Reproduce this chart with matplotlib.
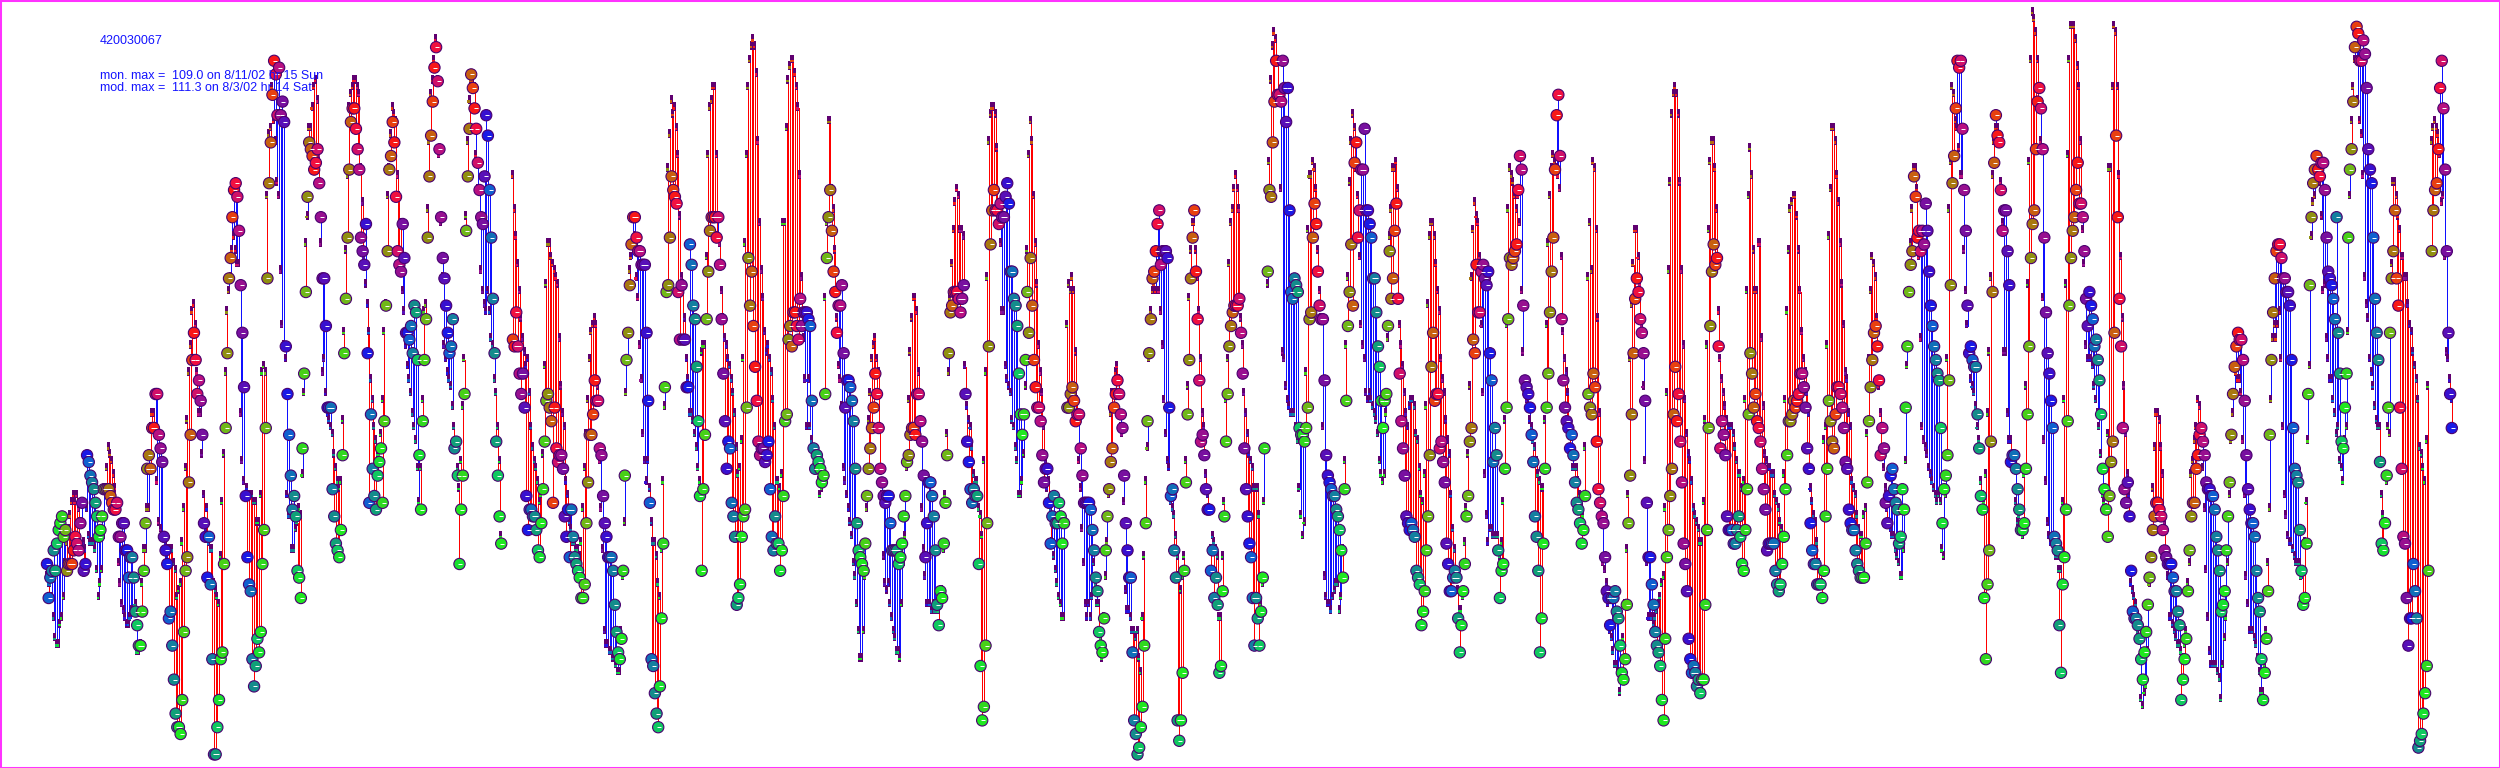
import numpy as np
import matplotlib
matplotlib.use('Agg')
import matplotlib.pyplot as plt

nan = float('nan')

# hourly monitor (obs) and model values, one pair of lists per day, first day 6/15/02
obs_00 = [30,25,28,29,32,29,33,35,36,37,34,35,29,30,30,30,32,34,33,32,36,39,29,30]
mod_00 = [28,27,27,25,22,19,18,18,21,22,25,30,33,35,37,39,40,39,40,38,36,36,33,32]
obs_01 = [46,45,43,42,41,39,37,34,35,37,41,41,41,41,40,39,38,38,39,34,34,36,36,32]
mod_01 = [38,34,33,33,33,32,29,25,27,29,34,41,44,47,46,45,43,41,39,30,27,24,23,22]
obs_02 = [32,28,31,31,28,23,21,18,18,23,29,36,44,46,44,50,50,55,55,49,47,45,34,32]
mod_02 = [21,21,22,23,23,24,17,17,18,27,32,32,38,38,50,52,52,50,42,36,35,34,34,33]
obs_03 = [30,22,23,18,13,8,6,6,5,10,20,29,31,42,49,60,64,60,55,57,54,49,36,34]
mod_03 = [31,32,32,32,30,29,25,26,27,33,38,44,51,58,62,67,68,65,58,52,52,46,40,35]
obs_04 = [28,34,27,16,2,2,6,10,16,17,30,50,61,72,75,81,85,86,84,79,71,64,56,40]
mod_04 = [38,33,32,32,27,26,25,24,31,39,46,58,67,70,72,76,78,76,74,74,52,45,42,40]
obs_05 = [31,27,26,16,12,15,19,17,20,30,35,50,72,86,92,99,104,102,96,103,96,98,95,62]
mod_05 = [41,40,40,40,39,39,36,36,40,58,59,58,84,93,94,100,95,92,86,84,73,65,62,60]
obs_06 = [55,49,43,38,40,37,29,28,25,47,58,70,84,92,91,90,88,89,91,86,81,72,72,65]
mod_06 = [40,37,37,32,32,35,36,38,37,43,55,77,81,94,94,97,100,101,98,90,77,58,60,55]
obs_07 = [53,53,53,41,37,33,32,31,35,46,61,69,78,88,95,97,97,94,91,88,78,76,74,80]
mod_07 = [52,51,50,49,46,44,42,41,42,51,64,76,87,97,99,100,101,101,100,99,88,83,75,71]
obs_08 = [61,39,52,44,40,38,43,45,47,39,51,68,76,88,90,95,92,84,76,74,73,80,75,64]
mod_08 = [68,64,57,54,50,48,46,46,49,54,64,68,84,88,93,97,96,95,87,84,80,70,67,62]
obs_09 = [64,63,65,61,68,67,60,46,38,51,60,66,78,87,93,98,103,106,101,91,81,75,72,68]
mod_09 = [59,57,55,52,50,48,44,39,44,54,67,68,82,92,99,101,104,107,101,90,80,72,62,60]
obs_10 = [64,61,62,66,47,48,43,30,38,43,55,79,87,94,102,100,97,94,89,85,81,80,87,96]
mod_10 = [58,57,56,53,50,47,44,41,45,53,60,81,92,98,101,101,100,90,85,80,73,70,68,67]
obs_11 = [93,85,78,69,61,48,43,37,33,nan,nan,nan,nan,nan,nan,63,62,67,62,58,55,58,53,40]
mod_11 = [70,67,63,62,57,55,50,45,34,nan,nan,nan,nan,nan,nan,87,82,78,74,70,66,63,61,59]
obs_12 = [35,38,38,37,37,35,32,31,36,41,48,54,55,53,51,39,53,47,45,46,46,44,37,34]
mod_12 = [60,55,50,47,45,44,42,39,40,46,59,71,77,77,75,74,73,72,71,63,56,52,50,42]
obs_13 = [38,31,38,34,31,30,29,28,25,25,27,36,42,49,49,52,57,54,54,47,46,40,36,34]
mod_13 = [40,36,35,33,33,32,32,31,33,38,44,49,54,60,64,65,66,65,56,45,38,32,20,18]
obs_14 = [31,31,31,29,24,20,17,16,19,29,43,60,64,71,77,81,81,78,76,76,74,74,74,64]
mod_14 = [18,17,17,16,16,15,14,14,20,28,36,55,60,73,75,77,78,72,69,62,57,49,45,42]
obs_15 = [54,39,16,15,11,8,6,12,22,33,56,70,71,78,87,85,84,83,70,63,71,63,63,56]
mod_15 = [45,41,36,33,33,31,27,25,32,42,53,70,88,93,98,96,97,94,90,81,72,71,66,60]
obs_16 = [56,77,74,68,66,59,51,40,29,41,49,66,73,79,81,81,81,78,81,74,66,58,51,44]
mod_16 = [57,52,52,51,49,47,44,42,61,62,62,75,90,97,98,100,100,90,78,77,70,66,63,62]
obs_17 = [48,47,39,37,34,24,25,27,34,37,38,53,75,68,73,65,59,54,48,46,47,47,45,46]
mod_17 = [60,59,57,55,52,47,43,44,48,60,77,90,100,104,106,107,106,102,92,80,73,69,64,61]
obs_18 = [48,41,34,32,37,33,33,29,32,40,51,52,63,65,62,67,67,65,63,69,65,67,67,67]
mod_18 = [62,60,58,54,50,42,42,41,43,80,80,94,101,103,104,104,102,100,97,87,72,63,57,50]
obs_19 = [66,65,54,47,44,46,45,44,42,43,55,75,81,85,79,73,70,64,68,68,71,61,53,57]
mod_19 = [57,50,48,46,44,44,42,40,41,42,69,80,95,95,85,82,76,66,59,57,53,44,42,40]
obs_20 = [57,56,54,51,44,36,32,31,30,29,33,40,44,47,50,53,58,55,50,44,42,40,39,40]
mod_20 = [38,36,34,30,28,24,20,16,16,20,28,38,51,55,60,62,63,60,58,50,40,31,27,26]
obs_21 = [40,36,32,32,32,32,30,31,33,37,40,45,46,49,50,50,49,55,55,51,48,43,31,36]
mod_21 = [27,24,22,20,19,17,17,16,24,30,34,44,54,61,66,69,69,67,58,48,38,32,28,24]
obs_22 = [42,42,40,37,32,24,21,26,25,33,39,46,61,67,68,70,70,70,69,67,69,71,55,48]
mod_22 = [24,24,23,24,23,23,23,24,26,32,40,49,58,69,74,79,83,85,84,79,79,78,59,53]
obs_23 = [45,41,39,41,40,40,30,15,7,9,18,36,62,77,82,85,82,82,80,83,81,81,84,86]
mod_23 = [51,50,47,43,42,42,38,37,34,45,58,72,92,96,97,97,96,91,80,77,67,67,59,57]
obs_24 = [83,73,73,69,68,65,58,52,49,52,60,70,64,75,68,60,56,53,53,51,46,42,44,44]
mod_24 = [56,55,51,50,47,45,40,40,42,46,56,76,90,95,92,84,77,71,62,58,55,50,45,41]
obs_25 = [39,33,37,40,36,36,39,37,33,36,nan,53,53,55,56,54,51,52,52,47,43,39,39,39]
mod_25 = [42,38,33,31,29,27,25,24,22,22,nan,65,71,70,72,70,61,54,45,41,35,30,24,22]
obs_26 = [39,38,35,32,28,26,20,18,17,22,32,37,41,45,47,53,55,57,55,52,50,43,36,32]
mod_26 = [24,22,25,30,27,24,24,19,16,22,28,33,40,52,55,55,58,59,57,50,49,39,26,23]
obs_27 = [28,28,17,7,5,2,3,6,9,18,36,51,61,66,72,73,76,80,82,74,76,76,76,75]
mod_27 = [23,22,20,20,19,20,16,14,22,31,42,47,60,67,70,71,70,74,70,67,62,54,49,45]
obs_28 = [53,40,41,32,28,7,4,7,14,29,42,52,60,72,78,82,73,66,57,48,49,46,41,38]
mod_28 = [44,39,38,37,34,31,28,26,28,31,45,56,69,76,80,80,76,72,67,60,52,50,43,40]
obs_29 = [38,29,32,25,28,24,14,15,26,37,48,55,62,65,67,68,68,68,69,64,58,47,41,37]
mod_29 = [38,32,34,33,32,31,22,22,31,39,54,60,74,80,82,85,87,85,82,66,62,55,52,49]
obs_30 = [33,31,25,18,25,22,18,23,28,47,nan,73,85,84,92,98,104,99,99,98,104,100,95,100]
mod_30 = [46,45,44,41,41,41,37,24,27,39,nan,71,89,101,106,108,107,104,98,85,61,60,56,54]
obs_31 = [82,70,69,72,71,70,50,49,49,48,50,53,66,67,78,83,80,73,68,66,66,57,46,43]
mod_31 = [53,52,52,52,50,48,41,37,34,36,58,79,87,87,89,88,85,76,70,66,50,28,25,24]
obs_32 = [42,41,40,40,38,37,35,32,28,41,54,65,70,77,68,89,92,78,82,88,88,94,82,82]
mod_32 = [24,23,25,26,27,27,23,25,32,45,62,72,86,92,96,94,88,84,75,65,62,60,55,54]
obs_33 = [80,78,72,72,67,62,59,54,50,54,55,65,76,69,72,79,83,69,58,51,47,43,37,36]
mod_33 = [55,54,53,52,51,49,45,43,42,43,52,63,78,82,88,88,89,85,65,62,59,55,52,50]
obs_34 = [35,36,35,34,29,28,27,21,23,26,32,37,46,59,64,54,55,55,47,48,45,42,33,30]
mod_34 = [53,54,54,53,49,48,44,40,39,43,53,68,78,80,80,78,74,70,67,60,57,55,51,48]
obs_35 = [26,26,28,29,28,22,17,21,26,30,37,40,48,50,63,61,74,67,67,73,74,72,71,73]
mod_35 = [46,40,35,32,28,26,23,23,25,33,38,46,56,72,79,83,81,80,75,65,55,43,37,33]
obs_36 = [61,57,45,50,46,32,25,29,30,44,53,66,75,74,75,76,77,85,90,88,68,57,56,55]
mod_36 = [35,35,34,34,34,34,31,33,39,51,65,82,88,87,86,84,82,84,80,70,61,55,54,53]
obs_37 = [53,49,45,37,34,29,17,22,33,44,53,58,67,73,78,88,96,99,90,66,57,53,51,50]
mod_37 = [51,50,48,47,45,43,42,41,41,51,65,77,84,88,90,89,88,87,85,75,64,60,58,55]
obs_38 = [47,49,46,42,39,38,36,33,35,40,nan,55,53,52,58,56,48,41,39,37,36,31,26,25]
mod_38 = [50,46,44,44,44,42,40,38,37,47,nan,72,80,73,89,88,79,66,52,38,30,29,27,24]
obs_39 = [21,25,25,26,23,22,18,14,13,16,24,36,43,52,61,69,72,70,66,64,61,54,39,31]
mod_39 = [20,19,17,15,15,14,11,13,19,24,32,40,60,68,74,79,79,75,71,65,56,45,30,22]
obs_40 = [31,27,24,20,18,17,15,10,7,19,31,35,40,44,52,59,51,55,48,42,33,30,26,19]
mod_40 = [22,22,21,22,23,24,25,27,28,38,55,73,86,96,99,100,99,96,86,73,62,54,49,46]
obs_41 = [16,14,15,14,12,13,11,13,13,24,35,50,65,73,77,74,75,62,47,51,49,46,37,35]
mod_41 = [45,42,38,37,36,35,33,33,39,51,62,79,89,92,92,88,82,67,60,57,55,53,51,50]
obs_42 = [35,35,33,33,35,37,34,30,29,35,41,52,61,58,53,55,51,50,48,44,41,38,32,33]
mod_42 = [50,50,49,47,45,43,43,41,42,54,70,84,91,87,76,70,70,77,77,63,53,46,45,44]
obs_43 = [33,33,33,29,27,26,27,30,34,41,46,51,51,52,54,53,54,55,58,58,56,53,47,44]
mod_43 = [44,43,43,40,39,38,36,35,43,54,67,76,82,83,84,84,81,76,70,64,60,58,55,52]
obs_44 = [36,32,30,30,27,27,27,25,29,37,44,54,51,48,47,52,56,56,55,53,50,45,44,38]
mod_44 = [41,39,37,36,33,30,29,27,48,50,62,78,85,94,94,92,87,83,77,71,65,58,57,52]
obs_45 = [36,35,35,32,30,29,28,28,28,33,42,51,56,60,64,65,62,57,46,50,47,39,36,40]
mod_45 = [50,42,41,40,37,35,34,34,37,38,49,60,70,75,74,72,66,56,52,50,44,41,38,36]
obs_46 = [43,44,41,39,38,33,34,41,38,53,62,70,74,76,87,84,78,79,76,79,77,83,79,73]
mod_46 = [35,34,34,32,31,30,28,28,32,45,59,70,77,82,88,88,85,75,63,50,48,47,46,44]
obs_47 = [68,65,62,60,58,57,50,36,41,43,46,57,71,86,90,97,104,103,104,94,85,79,68,61]
mod_47 = [43,42,41,40,39,40,39,32,31,40,60,82,89,100,99,95,94,91,87,87,76,70,65,60]
obs_48 = [62,60,59,59,52,47,40,38,25,16,27,32,48,70,89,96,93,92,85,79,82,82,76,71]
mod_48 = [57,56,55,53,50,48,42,40,39,43,52,61,72,87,92,94,94,92,86,80,61,61,52,48]
obs_49 = [45,46,46,44,41,38,35,35,36,44,52,62,75,80,82,91,98,100,97,91,78,67,61,58]
mod_49 = [48,46,45,39,36,37,35,34,43,56,71,89,104,111,110,108,104,100,92,69,48,42,36,34]
obs_50 = [54,50,34,33,32,21,14,27,31,38,51,68,75,79,81,85,89,83,83,81,76,69,65,70]
mod_50 = [33,33,32,31,31,29,29,39,54,71,90,104,109,109,109,107,103,100,92,79,74,62,60,60]
obs_51 = [68,66,62,63,60,57,52,44,41,38,34,40,45,48,64,93,81,69,62,50,41,39,42,37]
mod_51 = [60,59,56,54,52,50,46,40,39,38,49,88,88,100,109,108,100,87,75,66,56,49,43,40]
obs_52 = [29,23,22,22,21,19,16,13,17,20,24,28,31,35,37,39,39,38,37,35,32,31,30,30]
mod_52 = [27,26,25,24,20,16,10,9,11,12,17,27,31,41,47,52,52,51,47,43,36,30,28,22]
obs_53 = [30,28,26,26,23,21,10,13,16,19,26,32,37,39,39,44,46,49,50,48,46,42,41,41]
mod_53 = [22,21,20,19,18,18,17,16,18,20,27,30,43,45,48,50,54,53,50,44,38,29,22,17]
obs_54 = [40,40,38,34,32,29,23,24,26,32,37,42,49,55,59,62,64,63,63,60,54,46,41,38]
mod_54 = [15,15,15,15,14,13,10,15,19,22,30,40,48,52,55,58,57,57,55,48,40,28,24,20]
obs_55 = [36,36,34,29,25,23,16,10,14,19,26,49,60,67,72,76,77,77,75,72,72,70,70,68]
mod_55 = [20,20,19,18,16,14,11,11,15,20,30,38,54,63,65,63,65,67,60,50,40,37,34,33]
obs_56 = [60,50,44,43,42,35,29,24,25,33,55,71,81,86,88,90,88,87,89,89,85,78,73,72]
mod_56 = [33,32,31,30,30,30,28,29,33,39,48,59,78,83,84,86,86,86,81,70,71,63,60,57]
obs_57 = [71,69,66,81,64,58,48,47,53,58,78,88,91,98,106,109,108,104,104,107,105,100,91,88]
mod_57 = [57,54,52,49,50,45,44,42,48,50,64,84,95,100,104,104,98,95,93,87,72,68,66,60]
obs_58 = [86,78,69,64,60,45,33,32,36,43,53,64,72,76,82,72,68,53,44,34,33,25,18,22]
mod_58 = [58,56,53,51,50,50,40,37,36,42,50,49,74,86,86,84,81,79,75,75,72,72,68,65]
obs_59 = [22,30,26,22,3,4,5,8,11,15,29,nan,76,82,85,86,91,100,104,97,88,76,64,55,50]
mod_59 = [64,61,59,57,54,47,46,44,42,48,56,nan,92,94,95,94,93,90,83,84,75,61,60,57,54]

obs_days = [obs_00,obs_01,obs_02,obs_03,obs_04,obs_05,obs_06,obs_07,obs_08,obs_09,
            obs_10,obs_11,obs_12,obs_13,obs_14,obs_15,obs_16,obs_17,obs_18,obs_19,
            obs_20,obs_21,obs_22,obs_23,obs_24,obs_25,obs_26,obs_27,obs_28,obs_29,
            obs_30,obs_31,obs_32,obs_33,obs_34,obs_35,obs_36,obs_37,obs_38,obs_39,
            obs_40,obs_41,obs_42,obs_43,obs_44,obs_45,obs_46,obs_47,obs_48,obs_49,
            obs_50,obs_51,obs_52,obs_53,obs_54,obs_55,obs_56,obs_57,obs_58,obs_59]
mod_days = [mod_00,mod_01,mod_02,mod_03,mod_04,mod_05,mod_06,mod_07,mod_08,mod_09,
            mod_10,mod_11,mod_12,mod_13,mod_14,mod_15,mod_16,mod_17,mod_18,mod_19,
            mod_20,mod_21,mod_22,mod_23,mod_24,mod_25,mod_26,mod_27,mod_28,mod_29,
            mod_30,mod_31,mod_32,mod_33,mod_34,mod_35,mod_36,mod_37,mod_38,mod_39,
            mod_40,mod_41,mod_42,mod_43,mod_44,mod_45,mod_46,mod_47,mod_48,mod_49,
            mod_50,mod_51,mod_52,mod_53,mod_54,mod_55,mod_56,mod_57,mod_58,mod_59]

# circle colour goes with the hour of day
hour_colors = ['#1a1ae6','#1060d0','#1070b8','#1480a0','#148c8c','#10a078','#10c860','#18e030',
               '#20e820','#30d820','#48d018','#70b818','#909010','#a87810','#c86010','#e84010',
               '#f81818','#f01040','#d01068','#b81080','#981090','#7810a0','#5810b8','#3810d0']

title_id = '420030067'
mon_label = 'mon. max ='
mod_label = 'mod. max ='
mon_text = '109.0 on 8/11/02 hr 15 Sun'
mod_text = '111.3 on 8/3/02 hr 14 Sat'

hours, obs, mod = [], [], []
for d in range(len(obs_days)):
    for h, (o, m) in enumerate(zip(obs_days[d], mod_days[d])):
        hours.append(24 * d + h)
        obs.append(o)
        mod.append(m)
hours = np.array(hours, dtype=float)
obs = np.array(obs, dtype=float)
mod = np.array(mod, dtype=float)
colors = [hour_colors[int(h) % 24] for h in hours]

W, H = 2500, 768
px = 1.67
fig = plt.figure(figsize=(W / 100, H / 100), dpi=100, facecolor='white')
ax = fig.add_axes([0, 0, 1, 1])
ax.set_xlim(-47 / px, (W - 47) / px)
ax.set_ylim(0, H / 6.8)
ax.set_xticks([])
ax.set_yticks([])
for s in ax.spines.values():
    s.set_color('#ff33ff')
    s.set_linewidth(2.2)

ok = ~np.isnan(obs) & ~np.isnan(mod)
up = ok & (mod > obs)
down = ok & (mod <= obs)
ax.vlines(hours[up], obs[up], mod[up], color='#ff0000', lw=0.45, antialiased=False, zorder=2)
ax.vlines(hours[down], obs[down], mod[down], color='#1010ff', lw=0.45, antialiased=False, zorder=2)

# model value: short dark tick with small square
ax.vlines(hours[ok] - 0.6, mod[ok] - 0.2, mod[ok] + 0.9, color='#600070', lw=1.0, antialiased=False, zorder=3)
ax.scatter(hours[ok] - 0.5, mod[ok], s=3, marker='s', c=[c for c, k in zip(colors, ok) if k],
           linewidths=0, zorder=3)

ax.scatter(hours[ok], obs[ok], s=66, c=[c for c, k in zip(colors, ok) if k], edgecolors='#4a0070',
           linewidths=0.8, zorder=4)
ax.scatter(hours[ok] + 0.6, obs[ok], s=5, marker='_', c='white', linewidths=0.7, zorder=5)

txt = dict(color='#1414ff', fontsize=9.0, family='Liberation Sans', va='center', ha='left')
fig.text(100 / W, 1 - 41 / H, title_id, **txt)
fig.text(100 / W, 1 - 76 / H, mon_label, **txt)
fig.text(172 / W, 1 - 76 / H, mon_text, **txt)
fig.text(100 / W, 1 - 88 / H, mod_label, **txt)
fig.text(172 / W, 1 - 88 / H, mod_text, **txt)

fig.savefig('out.png', dpi=100)
